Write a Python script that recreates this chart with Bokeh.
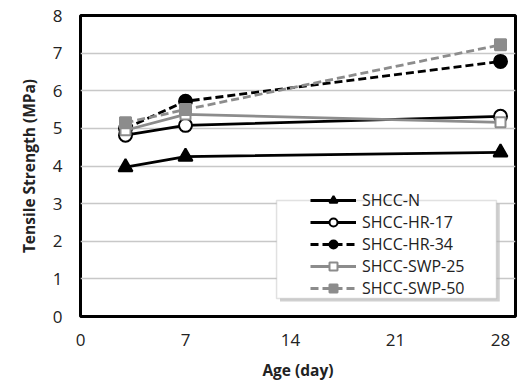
from bokeh.plotting import figure
from bokeh.models import Legend, LegendItem, FixedTicker, Range1d, BoxAnnotation
from bokeh.embed import file_html
from bokeh.resources import INLINE

age = [3, 7, 28]
shcc_n = [3.97, 4.25, 4.36]
shcc_hr17 = [4.82, 5.08, 5.32]
shcc_hr34 = [5.0, 5.72, 6.78]
shcc_swp25 = [4.95, 5.37, 5.16]
shcc_swp50 = [5.15, 5.5, 7.22]
x_ticks = [0, 7, 14, 21, 28]
y_ticks = [0, 1, 2, 3, 4, 5, 6, 7, 8]

FONT = "Open Sans"
p = figure(width=525, height=385, output_backend="svg", toolbar_location=None,
           x_range=Range1d(0, 29), y_range=Range1d(0, 8))
p.min_border_left = 80
p.min_border_right = 10
p.min_border_top = 15
p.min_border_bottom = 69

p.outline_line_color = "black"
p.outline_line_width = 3
p.xgrid.grid_line_color = None
p.ygrid.grid_line_color = "#c8c8c8"
p.ygrid.grid_line_width = 1.5

for ax in (p.xaxis, p.yaxis):
    ax.axis_line_color = None
    ax.major_tick_line_color = None
    ax.minor_tick_line_color = None
    ax.major_label_text_font = FONT
    ax.major_label_text_font_size = "17px"
    ax.major_label_text_color = "#222222"
    ax.axis_label_text_font = FONT
    ax.axis_label_text_font_size = "15.5px"
    ax.axis_label_text_font_style = "bold"
    ax.axis_label_text_color = "#222222"
p.xaxis.ticker = FixedTicker(ticks=x_ticks)
p.yaxis.ticker = FixedTicker(ticks=y_ticks)
p.xaxis.axis_label = "Age (day)"
p.yaxis.axis_label = "Tensile Strength (MPa)"
p.xaxis.major_label_standoff = 11
p.yaxis.major_label_standoff = 12
p.xaxis.axis_label_standoff = 10
p.yaxis.axis_label_standoff = 10

# legend frame (layout element) with a soft shadow
shadow = BoxAnnotation(left=13.3, right=27.95, bottom=0.40, top=3.0,
                       fill_color="#b0b0b0", fill_alpha=0.6, line_color=None)
frame = BoxAnnotation(left=13.07, right=27.73, bottom=0.48, top=3.08,
                      fill_color="white", fill_alpha=1, line_color="#9a9a9a", line_width=1.5)
p.add_layout(shadow)
p.add_layout(frame)

items = []
specs = [
    ("SHCC-N", shcc_n, "black", "solid", "triangle", "black", 14),
    ("SHCC-HR-17", shcc_hr17, "black", "solid", "circle", "white", 13),
    ("SHCC-HR-34", shcc_hr34, "black", "8 4", "circle", "black", 13),
    ("SHCC-SWP-25", shcc_swp25, "#8c8c8c", "solid", "square", "white", 10),
    ("SHCC-SWP-50", shcc_swp50, "#8c8c8c", "8 4", "square", "#8c8c8c", 11),
]
for name, ys, col, dash, mk, fill, sz in specs:
    r1 = p.line(age, ys, line_color=col, line_width=2.8, line_dash=dash)
    r2 = p.scatter(age, ys, marker=mk, size=sz, line_color=col, line_width=2, fill_color=fill)
    items.append(LegendItem(label=name, renderers=[r1, r2]))

legend = Legend(items=items, location=(230, 17))
legend.label_text_font = FONT
legend.label_text_font_size = "16px"
legend.label_text_color = "#222222"
legend.glyph_width = 46
legend.glyph_height = 20
legend.spacing = 0
legend.label_height = 20
legend.label_standoff = 6
legend.padding = 0
legend.margin = 0
legend.border_line_color = None
legend.background_fill_alpha = 0
p.add_layout(legend, "center")

open("out.html", "w").write(file_html(p, INLINE))
